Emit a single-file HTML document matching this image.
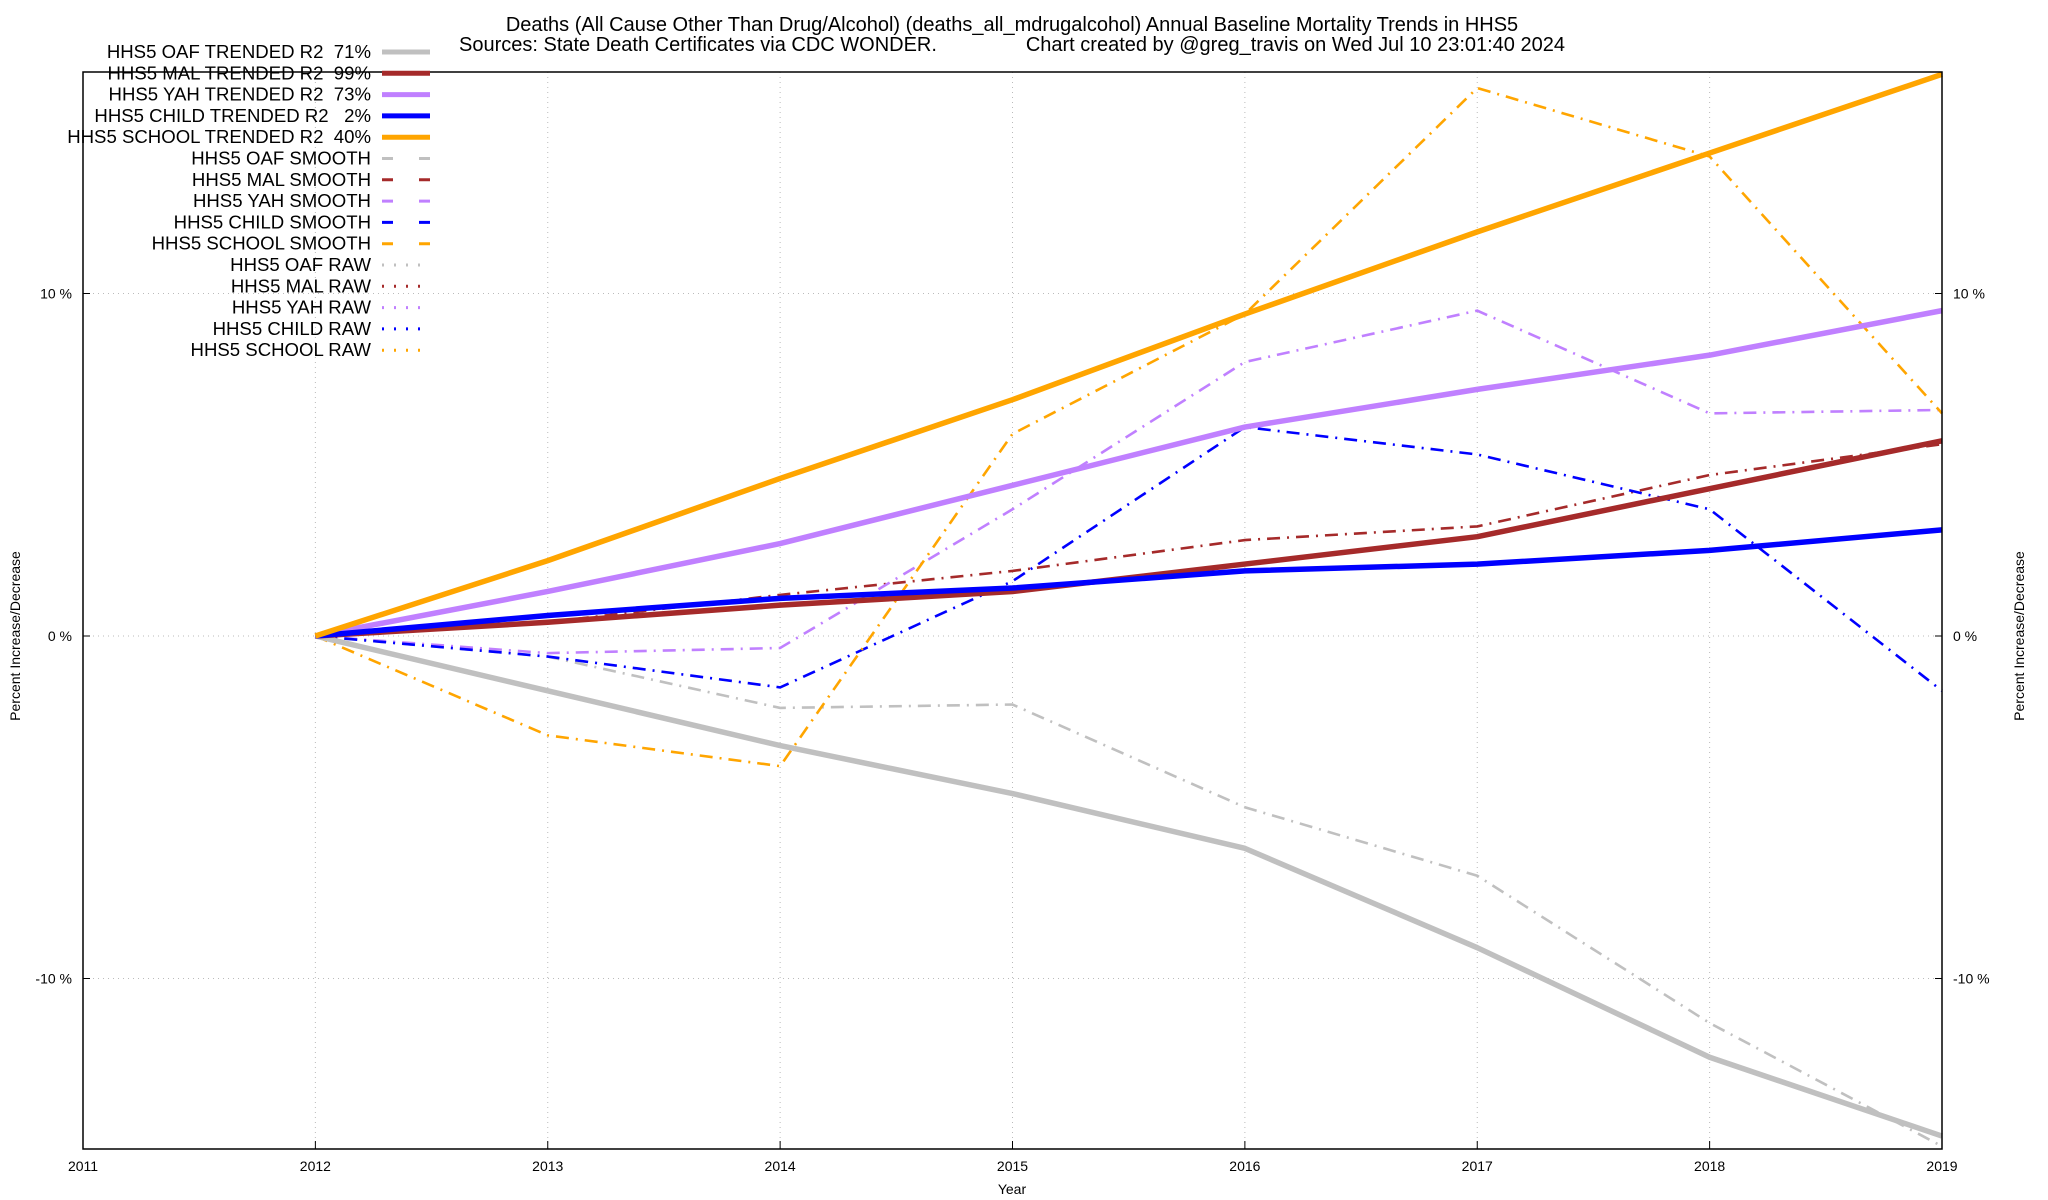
<!DOCTYPE html>
<html><head><meta charset="utf-8"><style>
html,body{margin:0;padding:0;background:#fff;}
svg{display:block;font-family:"Liberation Sans",Arial,sans-serif;}
</style></head><body>
<svg id="chart" width="2048" height="1200" viewBox="0 0 2048 1200" xmlns="http://www.w3.org/2000/svg">
<text x="1012" y="31" text-anchor="middle" font-size="20">Deaths (All Cause Other Than Drug/Alcohol) (deaths_all_mdrugalcohol)  Annual Baseline Mortality Trends in HHS5</text>
<text x="1012" y="51" text-anchor="middle" font-size="20" xml:space="preserve" style="white-space:pre">Sources: State Death Certificates via CDC WONDER.                Chart created by @greg_travis on Wed Jul 10 23:01:40 2024</text>
<text x="1012" y="1194" text-anchor="middle" font-size="14">Year</text>
<text transform="translate(20,636) rotate(-90)" text-anchor="middle" font-size="14">Percent Increase/Decrease</text>
<text transform="translate(2024,636) rotate(-90)" text-anchor="middle" font-size="14">Percent Increase/Decrease</text>
<g id="grid"></g><g id="series"></g><g id="axes"></g><g id="legend"></g>
</svg>
<script>
const years = [2012, 2013, 2014, 2015, 2016, 2017, 2018, 2019];
const xTicks = [2011, 2012, 2013, 2014, 2015, 2016, 2017, 2018, 2019];
const yTicks = [-10, 0, 10];
const oafTrend = [0, -1.6, -3.2, -4.6, -6.2, -9.1, -12.3, -14.6];
const malTrend = [0, 0.4, 0.9, 1.3, 2.1, 2.9, 4.3, 5.7];
const yahTrend = [0, 1.3, 2.7, 4.4, 6.1, 7.2, 8.2, 9.5];
const childTrend = [0, 0.6, 1.1, 1.4, 1.9, 2.1, 2.5, 3.1];
const schoolTrend = [0, 2.2, 4.6, 6.9, 9.4, 11.8, 14.1, 16.4];
const oafSmooth = [0, -0.6, -2.1, -2.0, -5.0, -7.0, -11.3, -14.9];
const malSmooth = [0, 0.4, 1.2, 1.9, 2.8, 3.2, 4.7, 5.6];
const yahSmooth = [0, -0.5, -0.35, 3.7, 8.0, 9.5, 6.5, 6.6];
const childSmooth = [0, -0.6, -1.5, 1.6, 6.1, 5.3, 3.7, -1.6];
const schoolSmooth = [0, -2.9, -3.8, 5.9, 9.4, 16.0, 14.0, 6.5];
const legendLabels = ["HHS5 OAF TRENDED R2  71%","HHS5 MAL TRENDED R2  99%","HHS5 YAH TRENDED R2  73%","HHS5 CHILD TRENDED R2   2%","HHS5 SCHOOL TRENDED R2  40%","HHS5 OAF SMOOTH","HHS5 MAL SMOOTH","HHS5 YAH SMOOTH","HHS5 CHILD SMOOTH","HHS5 SCHOOL SMOOTH","HHS5 OAF RAW","HHS5 MAL RAW","HHS5 YAH RAW","HHS5 CHILD RAW","HHS5 SCHOOL RAW"];

const L=83,R=1942,T=72,B=1149;
const xS=v=>L+(v-2011)*(R-L)/8;
const yS=v=>636-v*34.25;
const NS="http://www.w3.org/2000/svg";
function mk(tag,parent,attrs){const e=document.createElementNS(NS,tag);for(const k in attrs)e.setAttribute(k,attrs[k]);parent.appendChild(e);return e;}
const grid=document.getElementById('grid'),axes=document.getElementById('axes'),ser=document.getElementById('series'),leg=document.getElementById('legend');
xTicks.forEach(t=>{
  if(t>2011&&t<2019){const g=mk('line',grid,{x1:xS(t),x2:xS(t),y1:T,y2:B,stroke:'#bbb','stroke-width':1,'stroke-dasharray':'1,4'});
  
  }
  const tk=mk('line',axes,{x1:xS(t),x2:xS(t),y1:B,y2:B-8,stroke:'#000','stroke-width':1});
  
  
  const tx=mk('text',axes,{x:xS(t),y:B+22,'text-anchor':'middle','font-size':14});tx.textContent=t;
  
  
});
yTicks.forEach(t=>{
  const g=mk('line',grid,{x1:L,x2:R,y1:yS(t),y2:yS(t),stroke:'#bbb','stroke-width':1,'stroke-dasharray':'1,4'});
  
  
  [[L,L+7],[R,R-7]].forEach(p=>{mk('line',axes,{x1:p[0],x2:p[1],y1:yS(t),y2:yS(t),stroke:'#000','stroke-width':1});});
  const a=mk('text',axes,{x:L-11,y:yS(t)+5,'text-anchor':'end','font-size':14});a.textContent=t+' %';
  
  
  const b=mk('text',axes,{x:R+11,y:yS(t)+5,'text-anchor':'start','font-size':14});b.textContent=t+' %';
  
  
});
const fr=mk('rect',axes,{x:L,y:T,width:R-L,height:B-T,fill:'none',stroke:'#000','stroke-width':1.5});


const cp=mk('clipPath',document.getElementById('chart'),{id:'clip'});mk('rect',cp,{x:L,y:T-4,width:R-L+4,height:B-T+8});
ser.setAttribute('clip-path','url(#clip)');
const colors=['#c0c0c0','#a52a2a','#c080ff','#0000ff','#ffa500'];
const names=['oaf','mal','yah','child','school'];
const smooth=[oafSmooth,malSmooth,yahSmooth,childSmooth,schoolSmooth];
const trend=[oafTrend,malTrend,yahTrend,childTrend,schoolTrend];
const DD='13,7,2,7';
smooth.forEach((s,i)=>{
  const p=mk('polyline',ser,{points:s.map((v,j)=>xS(years[j])+','+yS(v)).join(' '),fill:'none',stroke:colors[i],'stroke-width':2.6,'stroke-dasharray':DD});
  
  
});
trend.forEach((s,i)=>{
  const p=mk('polyline',ser,{points:s.map((v,j)=>xS(years[j])+','+yS(v)).join(' '),fill:'none',stroke:colors[i],'stroke-width':5.5,'stroke-linejoin':'round'});
  
  
});
legendLabels.forEach((lab,k)=>{
  const y=52+k*21.3,c=colors[k%5];
  const tx=mk('text',leg,{x:371,y:y+6,'text-anchor':'end','font-size':18.6,'xml:space':'preserve',style:'white-space:pre'});tx.textContent=lab;
  
  
  let at={x1:382,x2:430,y1:y,y2:y,stroke:c};
  if(k<5){at['stroke-width']=5;}
  else if(k<10){at['stroke-width']=3;at['stroke-dasharray']='11,26';}
  else{at['stroke-width']=3;at['stroke-dasharray']='2,10';}
  const ln=mk('line',leg,at);
  
  
});
</script>
</body></html>
